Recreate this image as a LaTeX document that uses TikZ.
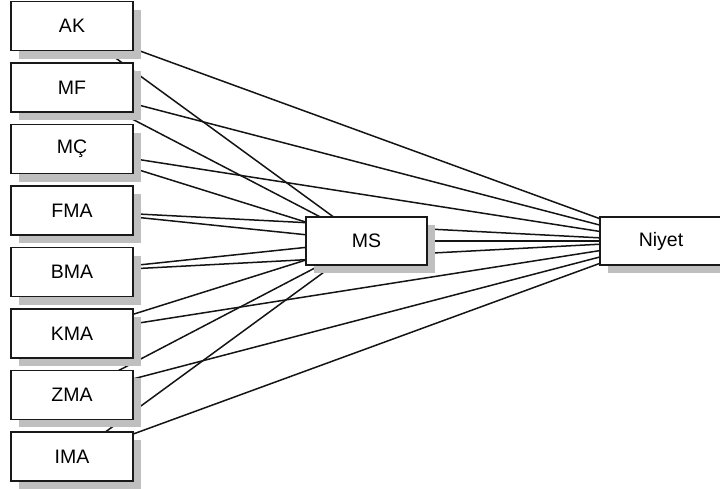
\documentclass[tikz,border=0pt]{standalone}
\usepackage{fontspec}
\setmainfont{Liberation Sans}
\usetikzlibrary{shadows}
\pgfdeclarelayer{paths}
\pgfsetlayers{paths,main}
\tikzset{
  var/.style={draw=black!90, line width=1.5pt, fill=white,
    minimum width=122pt, minimum height=49pt, inner sep=0pt,
    font=\fontsize{19.5}{23}\selectfont,
    drop shadow={shadow xshift=8pt, shadow yshift=-8pt, fill=black!25, opacity=1}},
  path/.style={draw=black!92, line width=1.5pt}
}
\begin{document}
\begin{tikzpicture}[x=1pt,y=-1pt]
  \useasboundingbox (0,0) rectangle (720,489);
  \begin{scope}
    \clip (0,0) rectangle (720,489);
    % exogenous measures
    \node[var] (ak)  at (72,26.2)  {AK};
    \node[var] (mf)  at (72,87.7)  {MF};
    \node[var] (mc)  at (72,149.1) {MÇ};
    \node[var] (fma) at (72,210.6) {FMA};
    \node[var] (bma) at (72,272.0) {BMA};
    \node[var] (kma) at (72,333.5) {KMA};
    \node[var] (zma) at (72,394.9) {ZMA};
    \node[var] (ima) at (72,456.4) {IMA};
    % mediator and outcome
    \node[var, minimum width=121pt, minimum height=48pt] (ms) at (366.5,241) {MS};
    \node[var, minimum height=48pt] (niyet) at (661,241) {Niyet};
    % paths run centre to centre beneath the boxes
    \begin{pgfonlayer}{paths}
      \foreach \v in {ak,mf,mc,fma,bma,kma,zma,ima}{
        \draw[path] (\v.center) -- (ms.center);
        \draw[path] (\v.center) -- (niyet.center);
      }
      \draw[path] (ms.center) -- (niyet.center);
    \end{pgfonlayer}
  \end{scope}
\end{tikzpicture}
\end{document}
